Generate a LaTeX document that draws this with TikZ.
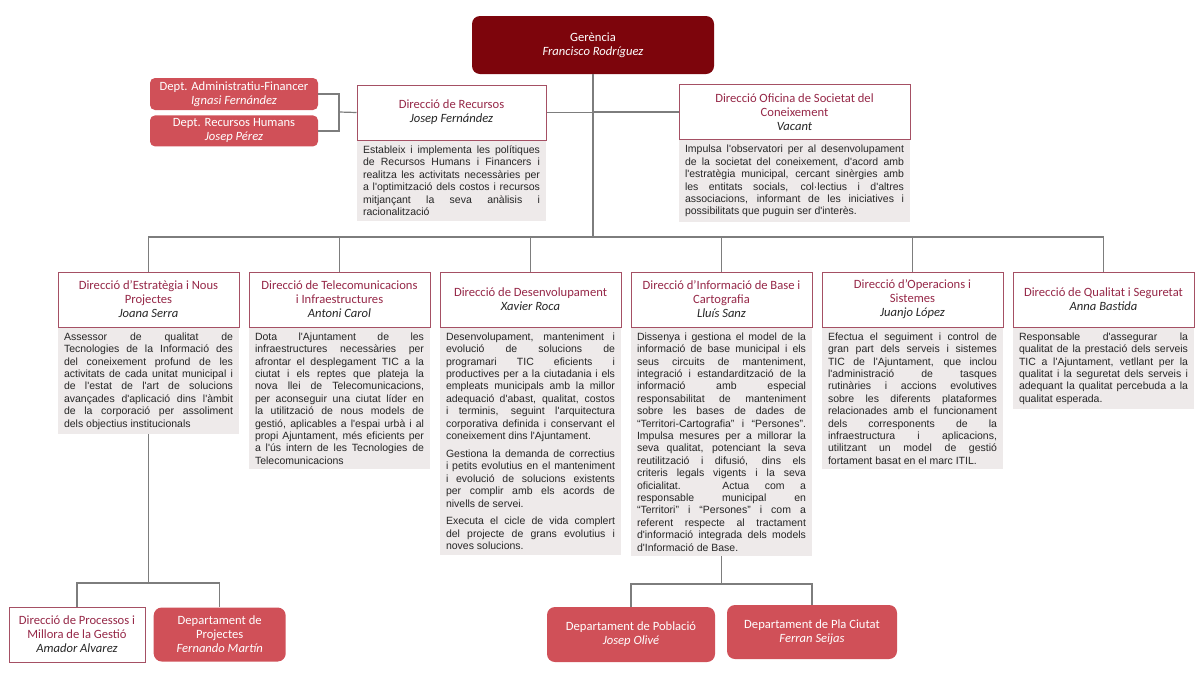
\documentclass[tikz,border=0pt]{standalone}
\usepackage{fontspec}
\setmainfont{Carlito}
\newfontfamily\arialfont{Liberation Sans}
\usetikzlibrary{positioning,calc}
\definecolor{darkred}{RGB}{125,5,12}
\definecolor{deptred}{RGB}{208,80,88}
\definecolor{titlered}{RGB}{150,40,72}
\definecolor{boxline}{RGB}{165,80,100}
\definecolor{descgray}{RGB}{238,234,234}
\definecolor{linkgray}{RGB}{125,125,125}
\newcommand{\titlefont}{\fontsize{12.6}{14}\selectfont}
\newcommand{\descfont}{\arialfont\fontsize{10.5}{12.4}\selectfont\setlength{\parskip}{5.5pt}}
\newcommand{\jbreak}{\linebreak}
\newcommand{\who}[1]{{\color{black!85}\itshape #1}}
\tolerance=10000
\hyphenpenalty=10000

\begin{document}
\begin{tikzpicture}[x=1pt, y=-1pt,
    gerbox/.style={fill=darkred, rounded corners=8pt, text=white, font=\titlefont, align=center, minimum width=242pt, minimum height=58pt},
    deptbox/.style={fill=deptred, rounded corners=6pt, text=white, font=\titlefont, align=center, inner sep=1pt},
    dirbox/.style={draw=boxline, line width=1pt, fill=white, text=titlered, font=\titlefont, align=center, minimum height=55pt, inner sep=2pt},
    descbox/.style={fill=descgray, text=black!85, font=\descfont, align=justify, inner xsep=6pt, inner ysep=5pt},
    link/.style={draw=linkgray, line width=1.2pt}
]
    \useasboundingbox[fill=white] (0,0) rectangle (1200,673);

    % top level
    \node[gerbox] (ger) at (593,45) {Gerència\\\textit{Francisco Rodríguez}};
    \node[deptbox, minimum width=168pt, minimum height=32pt, rounded corners=5pt] (adm) at (234,94) {Dept. Administratiu-Financer\\\textit{Ignasi Fernández}};
    \node[deptbox, minimum width=168pt, minimum height=31pt, rounded corners=5pt, below=5pt of adm] (hum) {Dept. Recursos Humans\\\textit{Josep Pérez}};

    \node[dirbox, minimum width=189pt] (rec) at (451.5,112.5) {Direcció de Recursos\\\who{Josep Fernández}};
    \node[descbox, text width=177pt, below=0pt of rec] (recd) {Estableix i implementa les polítiques\jbreak
        de Recursos Humans i Financers i\jbreak
        realitza les activitats necessàries per\jbreak
        a l'optimització dels costos i recursos\jbreak
        mitjançant la seva anàlisis i\jbreak
        racionalització};

    \node[dirbox, minimum width=231pt] (ofi) at (794.5,112) {Direcció Oficina de Societat del\\Coneixement\\\who{Vacant}};
    \node[descbox, text width=219pt, below=0pt of ofi] (ofid) {Impulsa l'observatori per al desenvolupament\jbreak
        de la societat del coneixement, d'acord amb\jbreak
        l'estratègia municipal, cercant sinèrgies amb\jbreak
        les entitats socials, col·lectius i d'altres\jbreak
        associacions, informant de les iniciatives i\jbreak
        possibilitats que puguin ser d'interès.};

    % directions
    \node[dirbox, minimum width=181pt] (t1) at (148.5,299.5) {Direcció d’Estratègia i Nous\\Projectes\\\who{Joana Serra}};
    \node[dirbox, minimum width=181pt, right=9pt of t1] (t2) {Direcció de Telecomunicacions\\i Infraestructures\\\who{Antoni Carol}};
    \node[dirbox, minimum width=181pt, right=9pt of t2] (t3) {Direcció de Desenvolupament\\\who{Xavier Roca}};
    \node[dirbox, minimum width=181pt, right=9pt of t3] (t4) {Direcció d’Informació de Base i\\Cartografia\\\who{Lluís Sanz}};
    \node[dirbox, minimum width=181pt, right=9pt of t4] (t5) {Direcció d’Operacions i\\Sistemes\\\who{Juanjo López}};
    \node[dirbox, minimum width=181pt, right=9pt of t5] (t6) {Direcció de Qualitat i Seguretat\\\who{Anna Bastida}};

    \node[descbox, text width=169pt, below=0pt of t1] (d1) {Assessor de qualitat de\jbreak
        Tecnologies de la Informació des\jbreak
        del coneixement profund de les\jbreak
        activitats de cada unitat municipal i\jbreak
        de l'estat de l'art de solucions\jbreak
        avançades d'aplicació dins l'àmbit\jbreak
        de la corporació per assoliment\jbreak
        dels objectius institucionals};
    \node[descbox, text width=169pt, below=0pt of t2] (d2) {Dota l'Ajuntament de les\jbreak
        infraestructures necessàries per\jbreak
        afrontar el desplegament TIC a la\jbreak
        ciutat i els reptes que plateja la\jbreak
        nova llei de Telecomunicacions,\jbreak
        per aconseguir una ciutat líder en\jbreak
        la utilització de nous models de\jbreak
        gestió, aplicables a l'espai urbà i al\jbreak
        propi Ajuntament, més eficients per\jbreak
        a l'ús intern de les Tecnologies de\jbreak
        Telecomunicacions};
    \node[descbox, text width=169pt, below=0pt of t3] (d3) {Desenvolupament, manteniment i\jbreak
        evolució de solucions de\jbreak
        programari TIC eficients i\jbreak
        productives per a la ciutadania i els\jbreak
        empleats municipals amb la millor\jbreak
        adequació d'abast, qualitat, costos\jbreak
        i terminis, seguint l'arquitectura\jbreak
        corporativa definida i conservant el\jbreak
        coneixement dins l'Ajuntament.\par
        Gestiona la demanda de correctius\jbreak
        i petits evolutius en el manteniment\jbreak
        i evolució de solucions existents\jbreak
        per complir amb els acords de\jbreak
        nivells de servei.\par
        Executa el cicle de vida complert\jbreak
        del projecte de grans evolutius i\jbreak
        noves solucions.};
    \node[descbox, text width=169pt, below=0pt of t4] (d4) {Dissenya i gestiona el model de la\jbreak
        informació de base municipal i els\jbreak
        seus circuits de manteniment,\jbreak
        integració i estandardització de la\jbreak
        informació amb especial\jbreak
        responsabilitat de manteniment\jbreak
        sobre les bases de dades de\jbreak
        “Territori-Cartografia” i “Persones”.\jbreak
        Impulsa mesures per a millorar la\jbreak
        seva qualitat, potenciant la seva\jbreak
        reutilització i difusió, dins els\jbreak
        criteris legals vigents i la seva\jbreak
        oficialitat. Actua com a\jbreak
        responsable municipal en\jbreak
        “Territori” i “Persones” i com a\jbreak
        referent respecte al tractament\jbreak
        d'informació integrada dels models\jbreak
        d'Informació de Base.};
    \node[descbox, text width=169pt, below=0pt of t5] (d5) {Efectua el seguiment i control de\jbreak
        gran part dels serveis i sistemes\jbreak
        TIC de l'Ajuntament, que inclou\jbreak
        l'administració de tasques\jbreak
        rutinàries i accions evolutives\jbreak
        sobre les diferents plataformes\jbreak
        relacionades amb el funcionament\jbreak
        dels corresponents de la\jbreak
        infraestructura i aplicacions,\jbreak
        utilitzant un model de gestió\jbreak
        fortament basat en el marc ITIL.};
    \node[descbox, text width=169pt, below=0pt of t6] (d6) {Responsable d'assegurar la\jbreak
        qualitat de la prestació dels serveis\jbreak
        TIC a l'Ajuntament, vetllant per la\jbreak
        qualitat i la seguretat dels serveis i\jbreak
        adequant la qualitat percebuda a la\jbreak
        qualitat esperada.};

    % lower level
    \node[dirbox, minimum width=136pt] (proc) at (77,634.5) {Direcció de Processos i\\Millora de la Gestió\\\who{Amador Alvarez}};
    \node[deptbox, minimum width=132pt, minimum height=54pt, rounded corners=8pt, right=8pt of proc] (proj) {Departament de\\Projectes\\\textit{Fernando Martín}};
    \node[deptbox, minimum width=168pt, minimum height=55pt, rounded corners=8pt] (pob) at (631,634.5) {Departament de Població\\\textit{Josep Olivé}};
    \node[deptbox, minimum width=170pt, minimum height=54pt, rounded corners=8pt] (pla) at (812,632) {Departament de Pla Ciutat\\\textit{Ferran Seijas}};

    % connectors
    \coordinate (bus) at (593,237);
    \coordinate (brk) at (339,112);
    \coordinate (sub1) at (d1.south |- 0,583);
    \coordinate (sub4) at (d4.south |- 0,584);

    \draw[link] (ger.south) -- (bus);
    \draw[link] (rec.east) -- (rec.east -| ger.south);
    \draw[link] (ofi.west) -- (ofi.west -| ger.south);
    \draw[link] (adm.east) -| (brk);
    \draw[link] (hum.east) -| (brk);
    \draw[link] (brk) -- (rec.west);
    \foreach \n in {t1,t2,t3,t4,t5,t6}
        \draw[link] (bus) -| (\n.north);
    \draw[link] (d1.south) -- (sub1);
    \draw[link] (sub1) -| (proc.north);
    \draw[link] (sub1) -| (proj.north);
    \draw[link] (d4.south) -- (sub4);
    \draw[link] (sub4) -| (pob.north);
    \draw[link] (sub4) -| (pla.north);
\end{tikzpicture}
\end{document}
